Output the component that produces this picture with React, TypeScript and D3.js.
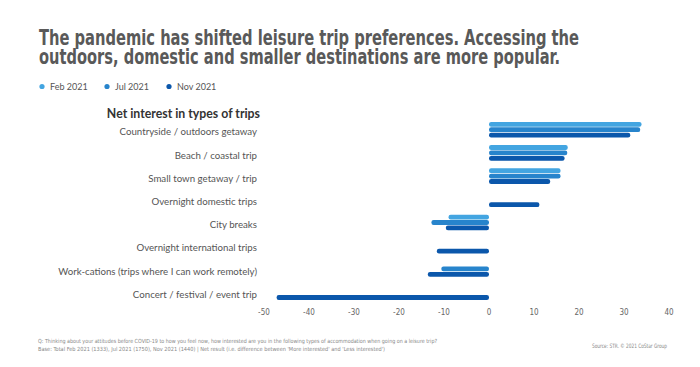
import React from 'react';
import * as d3 from 'd3';

// categories, top to bottom
const categories = [
    'Countryside / outdoors getaway',
    'Beach / coastal trip',
    'Small town getaway / trip',
    'Overnight domestic trips',
    'City breaks',
    'Overnight international trips',
    'Work-cations (trips where I can work remotely)',
    'Concert / festival / event trip',
];
const seriesNames = ['Feb 2021', 'Jul 2021', 'Nov 2021'];
// null = not asked in that wave
const feb2021 = [33.9, 17.5, 15.9, null, -9.0, null, null, null];
const jul2021 = [33.6, 17.4, 15.9, null, -12.8, null, -10.6, null];
const nov2021 = [31.4, 16.8, 13.6, 11.2, -9.6, -11.6, -13.6, -47.2];
const xTicks = [-50, -40, -30, -20, -10, 0, 10, 20, 30, 40];

const series = [feb2021, jul2021, nov2021];
const colors = ['#43a5e1', '#2784cc', '#0b57ab'];

const width = 700, height = 367;
const labelFont = "Lato, 'Open Sans', sans-serif";
const condFont = "'Liberation Sans Narrow', 'DejaVu Sans Condensed', 'Roboto Condensed', sans-serif";

export default function App() {
    const x = d3.scaleLinear().domain([-50, 40]).range([264, 669]);
    const y = d3.scalePoint<string>().domain(categories).range([129.7, 292.1]);
    const barH = 4.8, offset = 5.4;

    return (
        <svg width={width} height={height} style={{ position: 'absolute', left: 0, top: 0, background: '#fff' }}>
            {/* title, one text with two lines */}
            <text fill="#595959" fontFamily={condFont} fontWeight="bold" fontSize={21}>
                <tspan x={39} y={45} textLength={540} lengthAdjust="spacingAndGlyphs">
                    The pandemic has shifted leisure trip preferences. Accessing the
                </tspan>
                <tspan x={39} y={64} textLength={521} lengthAdjust="spacingAndGlyphs">
                    outdoors, domestic and smaller destinations are more popular.
                </tspan>
            </text>

            {/* legend */}
            <g fontFamily={labelFont} fontSize={9} fill="#555">
                {seriesNames.map((s, i) => {
                    const lx = [42, 107, 169][i];
                    return (
                        <g key={s}>
                            <circle cx={lx} cy={86.5} r={2.6} fill={colors[i]} />
                            <text x={lx + 8} y={89.6}>{s}</text>
                        </g>
                    );
                })}
            </g>

            {/* subtitle */}
            <text x={260} y={118} textAnchor="end" fontFamily={labelFont} fontWeight="bold" fontSize={12.3} fill="#333">
                Net interest in types of trips
            </text>

            {/* category labels */}
            <g fontFamily={labelFont} fontSize={9.7} fill="#555" textAnchor="end">
                {categories.map(c => (
                    <text key={c} x={257} y={(y(c) as number) + 5.6}>{c}</text>
                ))}
            </g>

            {/* bars */}
            {series.map((vals, si) => (
                <g key={si} fill={colors[si]}>
                    {vals.map((v, ci) => {
                        if (v === null) return null;
                        const x0 = x(Math.min(0, v)), x1 = x(Math.max(0, v));
                        const cy = (y(categories[ci]) as number) + (si - 1) * offset;
                        return (
                            <rect key={ci} x={x0} y={cy - barH / 2} width={x1 - x0} height={barH} rx={2.2} />
                        );
                    })}
                </g>
            ))}

            {/* x axis tick labels */}
            <g fontFamily={condFont} fontSize={8} fill="#666" textAnchor="middle">
                {xTicks.map(t => (
                    <text key={t} x={x(t)} y={315}>{t}</text>
                ))}
            </g>

            {/* footnotes */}
            <g fontFamily={condFont} fontSize={5.6} fill="#888">
                <text x={38} y={343} textLength={399} lengthAdjust="spacingAndGlyphs">
                    Q: Thinking about your attitudes before COVID-19 to how you feel now, how interested are you in the following types of accommodation when going on a leisure trip?
                </text>
                <text x={38} y={351} textLength={347} lengthAdjust="spacingAndGlyphs">
                    Base: Total Feb 2021 (1333), Jul 2021 (1750), Nov 2021 (1440) | Net result (i.e. difference between 'More interested' and 'Less interested')
                </text>
                <text x={667} y={348} textAnchor="end" fontSize={6} textLength={75} lengthAdjust="spacingAndGlyphs">
                    Source: STR. © 2021 CoStar Group
                </text>
            </g>
        </svg>
    );
}
